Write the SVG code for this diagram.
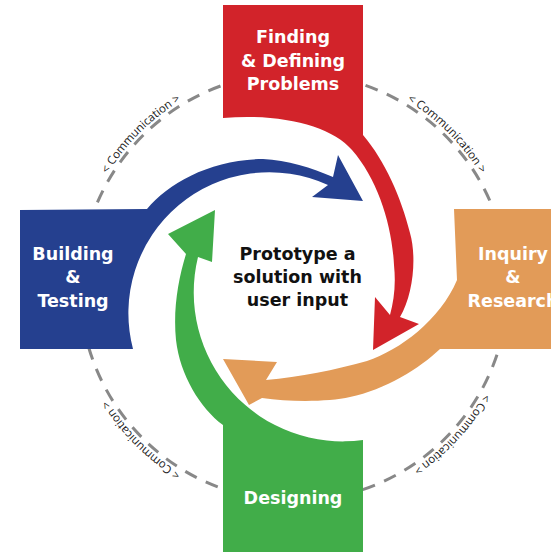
<svg xmlns="http://www.w3.org/2000/svg" width="551" height="552" viewBox="0 0 551 552">
<defs>
<style>
.lbl{font-family:"DejaVu Sans",sans-serif;font-weight:bold;font-size:17.5px;fill:#ffffff;text-anchor:middle}
.ctr{font-family:"DejaVu Sans",sans-serif;font-weight:bold;font-size:17.5px;fill:#111111;text-anchor:middle}
.com{font-family:"Open Sans",sans-serif;font-size:11.5px;fill:#222222}
.dash{fill:none;stroke:#888888;stroke-width:3;stroke-dasharray:13 10}
.red{fill:#D2232A}
.blue{fill:#25408F}
.green{fill:#41AD49}
.orange{fill:#E29B58}
</style>
<path id="arcTL" d="M79.3,249.2 A218,218 0 0 1 256.2,72.3"/>
<path id="arcTR" d="M331.8,72.3 A218,218 0 0 1 508.7,249.2"/>
<path id="arcBR" d="M509.9,317.3 A218,218 0 0 1 339.3,500.2"/>
<path id="arcBL" d="M256.2,501.7 A218,218 0 0 1 79.3,324.8"/>
</defs>
<rect width="551" height="552" fill="#ffffff"/>
<g id="connectors">
<circle class="dash" cx="294" cy="287" r="214"/>
<text class="com"><textPath href="#arcTL" startOffset="50%" text-anchor="middle">&lt; Communication &gt;</textPath></text>
<text class="com"><textPath href="#arcTR" startOffset="50%" text-anchor="middle">&lt; Communication &gt;</textPath></text>
<text class="com"><textPath href="#arcBR" startOffset="50%" text-anchor="middle">&lt; Communication &gt;</textPath></text>
<text class="com"><textPath href="#arcBL" startOffset="50%" text-anchor="middle">&lt; Communication &gt;</textPath></text>
</g>
<g id="node-finding">
<path class="red" d="M223,5 L363,5 L363,135 C385,161 401,197 410,233 C417,258 413,295 400,317 L419,324 L373,350 L375,297 L390,315 C394,300 396,285 394,265 C392,225 378,180 352,150 C332,126 280,113 223,118 Z"/>
<text class="lbl" x="293" y="43">Finding</text>
<text class="lbl" x="293" y="67">&amp; Defining</text>
<text class="lbl" x="293" y="90">Problems</text>
</g>
<g id="node-inquiry">
<path class="orange" d="M454,209 L560,209 L560,349 L440,349 C420,368 385,390 350,397 C328,402 290,402 262,398 L249,405 L223,359 L277,362 L266,380 C300,377 335,370 367,361 C400,350 440,320 457,280 Z"/>
<text class="lbl" x="513" y="260">Inquiry</text>
<text class="lbl" x="513" y="283">&amp;</text>
<text class="lbl" x="513" y="307">Research</text>
</g>
<g id="node-designing">
<path class="green" d="M223,552 L223,425 C200,408 180,375 176,340 C173,310 178,280 186,254 L168,234 L215,210 L212,262 L198,257 A149,149 0 0 0 363,440 L363,552 Z"/>
<text class="lbl" x="293" y="504">Designing</text>
</g>
<g id="node-building">
<path class="blue" d="M20,210 L147,209 C168,183 212,159 263,159 C287,160 312,168 333,177 L338,155 L363,201 L312,197 L328,185 A141,141 0 0 0 133,349 L20,349 Z"/>
<text class="lbl" x="73" y="260">Building</text>
<text class="lbl" x="73" y="283">&amp;</text>
<text class="lbl" x="73" y="307">Testing</text>
</g>
<g id="node-center">
<text class="ctr" x="297.5" y="260">Prototype a</text>
<text class="ctr" x="297.5" y="283">solution with</text>
<text class="ctr" x="297.5" y="306">user input</text>
</g>
</svg>
